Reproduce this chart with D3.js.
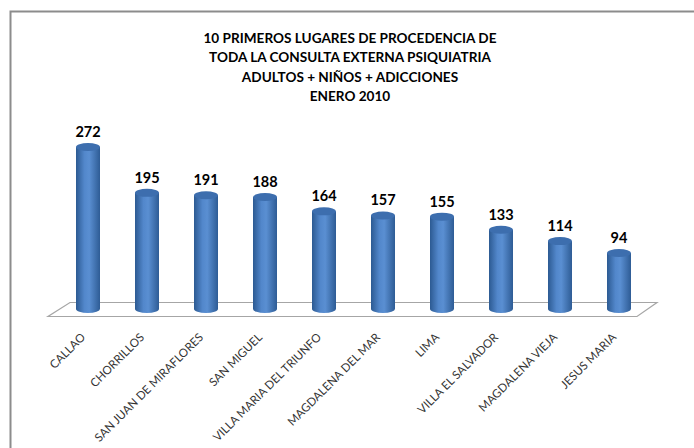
<!DOCTYPE html>
<html>
<head>
<meta charset="utf-8">
<script src="https://cdn.jsdelivr.net/npm/d3@7"></script>
<style>
    body { margin: 0; background: #fff; }
    svg { display: block; font-family: Lato, "Open Sans", sans-serif; }
</style>
</head>
<body>
<svg id="chart" width="694" height="448"></svg>
<script>
"use strict";

// данные
const titleLines = [
    "10 PRIMEROS LUGARES DE PROCEDENCIA DE",
    "TODA LA CONSULTA EXTERNA PSIQUIATRIA",
    "ADULTOS + NIÑOS + ADICCIONES",
    "ENERO 2010"
];
const categories = ["CALLAO", "CHORRILLOS", "SAN JUAN DE MIRAFLORES", "SAN MIGUEL",
    "VILLA MARIA DEL TRIUNFO", "MAGDALENA DEL MAR", "LIMA", "VILLA EL SALVADOR",
    "MAGDALENA VIEJA", "JESUS MARIA"];
const values = [272, 195, 191, 188, 164, 157, 155, 133, 114, 94];

const svg = d3.select("#chart");

// рамка
svg.append("rect")
    .attr("x", 10.5).attr("y", 11.5)
    .attr("width", 700).attr("height", 460)
    .attr("fill", "none")
    .attr("stroke", "#8c8c8c")
    .attr("stroke-width", 2);

// заголовок
svg.append("g").selectAll("text")
    .data(titleLines)
    .join("text")
    .attr("x", 350)
    .attr("y", (d, i) => 43 + i * 19.3)
    .attr("text-anchor", "middle")
    .attr("font-size", 13.6)
    .attr("font-weight", "bold")
    .attr("fill", "#000")
    .text(d => d);

const x = d3.scaleBand().domain(categories).range([58.5, 648.5]).padding(0);
const y = d3.scaleLinear().domain([0, 272]).range([309, 147]);
const barW = 24, ry = 4;

// пол (3d-основание)
svg.append("path")
    .attr("d", "M70,302.5 L657,302.5 L637,316.5 L48,316.5 Z")
    .attr("fill", "#fff")
    .attr("stroke", "#a6a6a6")
    .attr("stroke-width", 1.2);

// градиент цилиндра
const defs = svg.append("defs");
const grad = defs.append("linearGradient").attr("id", "cyl")
    .attr("x1", 0).attr("x2", 1).attr("y1", 0).attr("y2", 0);
[[0, "#2c5a92"], [0.35, "#5287cb"], [0.55, "#5a8fd2"], [1, "#2e5c95"]]
    .forEach(([o, c]) => grad.append("stop").attr("offset", o).attr("stop-color", c));

const bars = svg.append("g").selectAll("g")
    .data(values)
    .join("g")
    .attr("transform", (d, i) => `translate(${x(categories[i]) + x.bandwidth() / 2},0)`);

bars.append("ellipse")
    .attr("cx", 0).attr("cy", y(0))
    .attr("rx", barW / 2).attr("ry", ry)
    .attr("fill", "url(#cyl)");
bars.append("rect")
    .attr("x", -barW / 2).attr("y", d => y(d))
    .attr("width", barW).attr("height", d => y(0) - y(d))
    .attr("fill", "url(#cyl)");
bars.append("ellipse")
    .attr("cx", 0).attr("cy", d => y(d))
    .attr("rx", barW / 2).attr("ry", ry)
    .attr("fill", "#3d6eae");

// подписи значений
bars.append("text")
    .attr("x", 0).attr("y", d => y(d) - 10)
    .attr("text-anchor", "middle")
    .attr("font-size", 14.5)
    .attr("font-weight", "bold")
    .attr("fill", "#000")
    .text(d => d);

// подписи категорий
svg.append("g").selectAll("text")
    .data(categories)
    .join("text")
    .attr("transform", d => `translate(${x(d) + x.bandwidth() / 2 - 2},338) rotate(-45)`)
    .attr("text-anchor", "end")
    .attr("font-size", 11.6)
    .attr("fill", "#333")
    .text(d => d);
</script>
</body>
</html>
